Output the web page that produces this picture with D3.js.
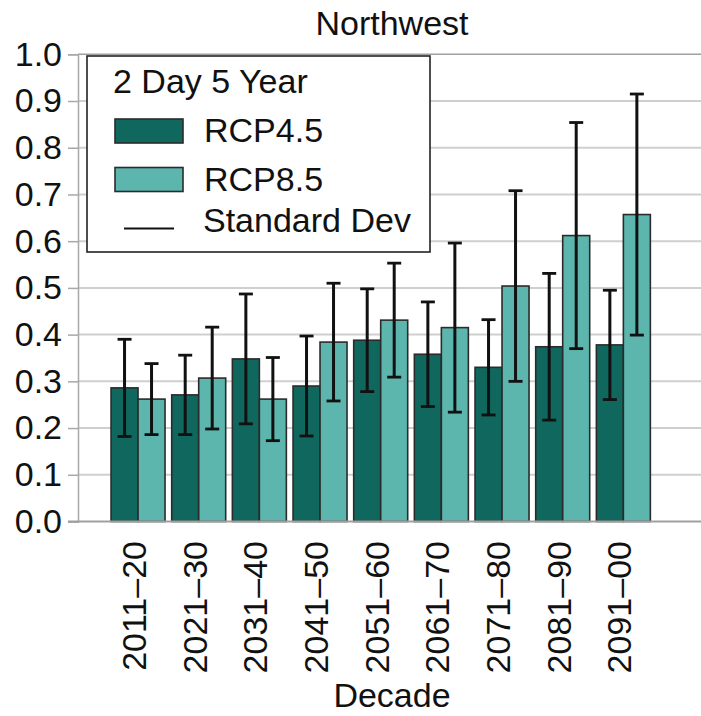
<!DOCTYPE html>
<html>
<head>
<meta charset="utf-8">
<script src="https://cdn.jsdelivr.net/npm/d3@7"></script>
<style>
  html, body { margin: 0; padding: 0; background: #fff; }
  svg { display: block; font-family: "Liberation Sans", Arial, Helvetica, sans-serif; }
</style>
</head>
<body>
<svg id="chart" width="701" height="716"></svg>
<script>
const categories = ["2011\u201320","2021\u201330","2031\u201340","2041\u201350","2051\u201360","2061\u201370","2071\u201380","2081\u201390","2091\u201300"];
const seriesNames = ["RCP4.5", "RCP8.5"];
const rcp45Mean = [0.286, 0.271, 0.348, 0.290, 0.388, 0.358, 0.330, 0.374, 0.378];
const rcp45Sd   = [0.104, 0.085, 0.139, 0.107, 0.110, 0.112, 0.102, 0.157, 0.117];
const rcp85Mean = [0.262, 0.307, 0.262, 0.384, 0.431, 0.415, 0.504, 0.612, 0.657];
const rcp85Sd   = [0.076, 0.109, 0.089, 0.126, 0.122, 0.181, 0.204, 0.242, 0.258];
const yTicks = [0.0, 0.1, 0.2, 0.3, 0.4, 0.5, 0.6, 0.7, 0.8, 0.9, 1.0];
const colors = ["#10675d", "#5cb6ad"];
const title = "Northwest";
const legendTitle = "2 Day 5 Year";
const sdLabel = "Standard Dev";
const xTitle = "Decade";

const svg = d3.select("#chart");
const FS = 34;

const y = d3.scaleLinear().domain([0, 1]).range([521.5, 54.3]);
const x0 = d3.scaleBand().domain(categories).range([107.7, 653.7]).paddingInner(0.11).paddingOuter(0.055);
const x1 = d3.scaleBand().domain(seriesNames).range([0, x0.bandwidth()]);

const plotLeft = 78, plotRight = 701;

// gridlines
svg.append("g").selectAll("line").data(yTicks.filter(d => d > 0 && d < 1)).join("line")
  .attr("x1", plotLeft).attr("x2", plotRight)
  .attr("y1", d => y(d)).attr("y2", d => y(d))
  .attr("stroke", "#cfcfcf").attr("stroke-width", 2);
// top border line
svg.append("line").attr("x1", plotLeft).attr("x2", plotRight)
  .attr("y1", y(1)).attr("y2", y(1)).attr("stroke", "#a0a0a0").attr("stroke-width", 1.5);

// y axis
const yAxis = d3.axisLeft(y).tickValues(yTicks).tickFormat(d3.format(".1f")).tickSize(10).tickPadding(6);
const gy = svg.append("g").attr("transform", `translate(${plotLeft},0)`).call(yAxis);
gy.select(".domain").attr("stroke", "#a8a8a8").attr("stroke-width", 1.5);
gy.selectAll(".tick line").attr("stroke", "#a8a8a8").attr("stroke-width", 1.5);
gy.selectAll(".tick text").attr("font-size", FS).attr("fill", "#111").attr("font-family", "Liberation Sans, Arial, sans-serif");

// data rows
const rows = categories.map((c, i) => ({
  cat: c,
  vals: [
    {s: seriesNames[0], m: rcp45Mean[i], sd: rcp45Sd[i]},
    {s: seriesNames[1], m: rcp85Mean[i], sd: rcp85Sd[i]}
  ]
}));

const groups = svg.append("g").selectAll("g").data(rows).join("g")
  .attr("transform", d => `translate(${x0(d.cat)},0)`);

groups.selectAll("rect").data(d => d.vals).join("rect")
  .attr("x", d => x1(d.s)).attr("width", x1.bandwidth())
  .attr("y", d => y(d.m)).attr("height", d => y(0) - y(d.m))
  .attr("fill", (d, i) => colors[i]).attr("stroke", "#2b2b2b").attr("stroke-width", 1.6);

// x axis baseline
svg.append("line").attr("x1", 68).attr("x2", plotRight)
  .attr("y1", y(0)).attr("y2", y(0)).attr("stroke", "#a0a0a0").attr("stroke-width", 1.8);

// error bars
const cap = 7;
groups.each(function(d) {
  const g = d3.select(this);
  d.vals.forEach(v => {
    const cx = x1(v.s) + x1.bandwidth() / 2;
    const top = y(v.m + v.sd), bot = y(v.m - v.sd);
    g.append("line").attr("x1", cx).attr("x2", cx).attr("y1", top).attr("y2", bot)
      .attr("stroke", "#111").attr("stroke-width", 3);
    g.append("line").attr("x1", cx - cap).attr("x2", cx + cap).attr("y1", top).attr("y2", top)
      .attr("stroke", "#111").attr("stroke-width", 2.8);
    g.append("line").attr("x1", cx - cap).attr("x2", cx + cap).attr("y1", bot).attr("y2", bot)
      .attr("stroke", "#111").attr("stroke-width", 2.8);
  });
});

// x tick labels
svg.append("g").selectAll("text").data(categories).join("text")
  .attr("transform", d => `translate(${x0(d) + x0.bandwidth() / 2 + 8},541) rotate(-90)`)
  .attr("text-anchor", "end").attr("font-size", FS).attr("fill", "#111")
  .text(d => d);

// titles
svg.append("text").attr("x", 392).attr("y", 35).attr("text-anchor", "middle")
  .attr("font-size", FS).attr("fill", "#111").text(title);
svg.append("text").attr("x", 392).attr("y", 707).attr("text-anchor", "middle")
  .attr("font-size", FS).attr("fill", "#111").text(xTitle);

// legend
const lg = svg.append("g");
lg.append("rect").attr("x", 87).attr("y", 56).attr("width", 343).attr("height", 196)
  .attr("fill", "#fff").attr("stroke", "#222").attr("stroke-width", 1.6);
lg.append("text").attr("x", 113).attr("y", 93).attr("font-size", FS).attr("fill", "#111").text(legendTitle);
seriesNames.forEach((s, i) => {
  const yy = 119 + i * 48.5;
  lg.append("rect").attr("x", 115).attr("y", yy).attr("width", 68).attr("height", 24)
    .attr("fill", colors[i]).attr("stroke", "#2b2b2b").attr("stroke-width", 1.6);
  lg.append("text").attr("x", 204).attr("y", yy + 23).attr("font-size", FS).attr("fill", "#111").text(s);
});
lg.append("line").attr("x1", 124).attr("x2", 174).attr("y1", 228.5).attr("y2", 228.5)
  .attr("stroke", "#111").attr("stroke-width", 2.2);
lg.append("text").attr("x", 203).attr("y", 232).attr("font-size", FS).attr("fill", "#111").text(sdLabel);
</script>
</body>
</html>
